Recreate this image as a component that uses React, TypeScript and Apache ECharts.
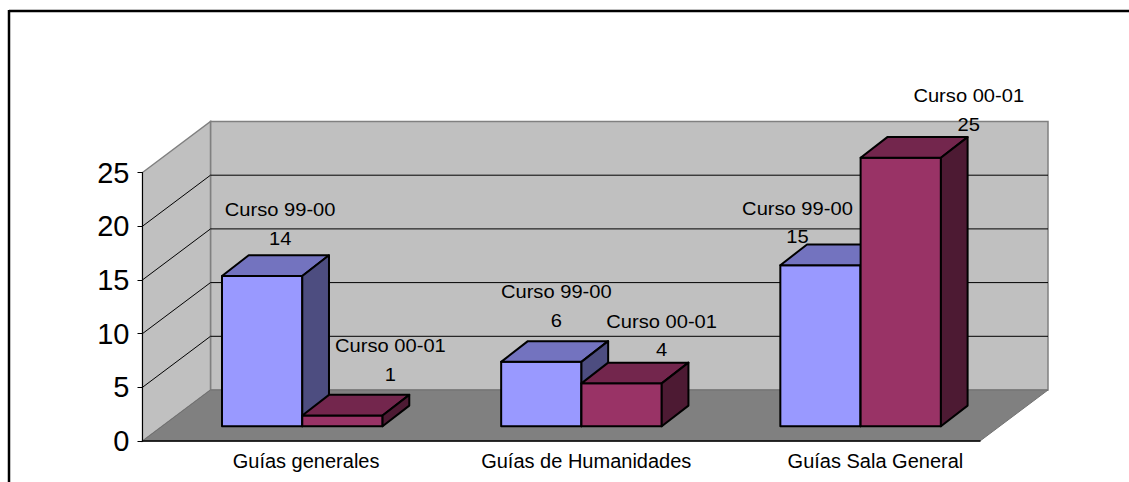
import React, { useEffect, useRef } from "react";
import * as echarts from "echarts";

const categories = ["Guías generales", "Guías de Humanidades", "Guías Sala General"];
const seriesNameA = "Curso 99-00";
const seriesNameB = "Curso 00-01";
const valuesA = [14, 6, 15];
const valuesB = [1, 4, 25];
const wallTicks = [5, 10, 15, 20];

// Layout of the 3-D projection, in pixels
const WALL_DX = 68;
const WALL_DY = -51;
const BAR_SHIFT_X = 20.2;
const BAR_SHIFT_Y = -14.7;
const BAR_DX = 26.7;
const BAR_DY = -20.7;
const BAR_RATIO = 0.2876;
const FONT = "'Liberation Sans', Arial, sans-serif";

// Hand-placed label offsets from the middle of each bar's front top edge
const labelOffsetsA = [[18, -52], [15, -56], [-23, -43]];
const labelOffsetsB = [[48, -56], [40, -48], [68, -48]];
// Horizontal padding that moves each category label off its band centre
const categoryPadding = [48, 50, 70];

const wallItem = (params: any, api: any) => {
  const cs = params.coordSys;
  const left = cs.x;
  const right = cs.x + cs.width;
  const y0 = api.coord([0, 0])[1];
  const yTop = api.coord([0, 25])[1];
  const children: any[] = [
    {
      type: "polygon",
      shape: { points: [[left + WALL_DX, yTop + WALL_DY], [right + WALL_DX, yTop + WALL_DY], [right + WALL_DX, y0 + WALL_DY], [left + WALL_DX, y0 + WALL_DY]] },
      style: { fill: "#C0C0C0", stroke: "#808080", lineWidth: 1.5 },
    },
    {
      type: "polygon",
      shape: { points: [[left, yTop], [left + WALL_DX, yTop + WALL_DY], [left + WALL_DX, y0 + WALL_DY], [left, y0]] },
      style: { fill: "#C0C0C0", stroke: "#808080", lineWidth: 1.5 },
    },
    {
      type: "polygon",
      shape: { points: [[left, y0], [left + WALL_DX, y0 + WALL_DY], [right + WALL_DX, y0 + WALL_DY], [right, y0]] },
      style: { fill: "#808080", stroke: "#707070", lineWidth: 1 },
    },
  ];
  wallTicks.forEach((t) => {
    const y = api.coord([0, t])[1];
    children.push({
      type: "polyline",
      shape: { points: [[left, y], [left + WALL_DX, y + WALL_DY], [right + WALL_DX, y + WALL_DY]] },
      style: { fill: "none", stroke: "#000", lineWidth: 1 },
    });
  });
  return { type: "group", children };
};

const barItem = (side: number, colors: string[], name: string, offsets: number[][]) => (params: any, api: any) => {
  const idx = api.value(0);
  const val = api.value(1);
  const top = api.coord([idx, val]);
  const base = api.coord([idx, 0]);
  const w = api.size([1, 0])[0] * BAR_RATIO;
  const x0 = top[0] + BAR_SHIFT_X + (side < 0 ? -w : 0);
  const x1 = x0 + w;
  const yT = top[1] + BAR_SHIFT_Y;
  const yB = base[1] + BAR_SHIFT_Y;
  const stroke = { stroke: "#000", lineWidth: 2, lineJoin: "round" };
  const off = offsets[params.dataIndex];
  return {
    type: "group",
    children: [
      { type: "polygon", shape: { points: [[x0, yT], [x1, yT], [x1, yB], [x0, yB]] }, style: { fill: colors[0], ...stroke } },
      { type: "polygon", shape: { points: [[x0, yT], [x0 + BAR_DX, yT + BAR_DY], [x1 + BAR_DX, yT + BAR_DY], [x1, yT]] }, style: { fill: colors[1], ...stroke } },
      { type: "polygon", shape: { points: [[x1, yT], [x1 + BAR_DX, yT + BAR_DY], [x1 + BAR_DX, yB + BAR_DY], [x1, yB]] }, style: { fill: colors[2], ...stroke } },
      {
        type: "text",
        x: (x0 + x1) / 2 + off[0],
        y: yT + off[1],
        scaleX: 1.06,
        style: {
          text: `${name}\n${val}`,
          fill: "#000",
          fontSize: 19,
          fontFamily: FONT,
          lineHeight: 28.5,
          align: "center",
          verticalAlign: "middle",
        },
      },
    ],
  };
};

const toData = (vals: number[]) => vals.map((v, i) => [i, v]);

export default function App() {
  const ref = useRef<HTMLDivElement>(null);
  useEffect(() => {
    const chart = echarts.init(ref.current!, null, { renderer: "svg" });
    const rich: any = {};
    categoryPadding.forEach((p, i) => {
      rich[`c${i}`] = { fontSize: 20, fontFamily: FONT, color: "#000", padding: [0, 0, 0, p] };
    });
    chart.setOption({
      animation: false,
      backgroundColor: "#fff",
      graphic: [
        { type: "line", shape: { x1: 9, y1: 11, x2: 1129, y2: 11 }, style: { stroke: "#000", lineWidth: 2.5 }, z: 100 },
        { type: "line", shape: { x1: 9, y1: 10, x2: 9, y2: 482 }, style: { stroke: "#000", lineWidth: 2.5 }, z: 100 },
      ],
      grid: { left: 142.5, right: 149, top: 172.5, bottom: 41 },
      xAxis: {
        type: "category",
        data: categories,
        z: 10,
        axisLine: { show: true, lineStyle: { color: "#000", width: 1.5 } },
        axisTick: { show: false },
        axisLabel: {
          margin: 10,
          interval: 0,
          formatter: (v: string) => `{c${categories.indexOf(v)}|${v}}`,
          rich,
        },
      },
      yAxis: {
        type: "value",
        min: 0,
        max: 25,
        interval: 5,
        z: 10,
        splitLine: { show: false },
        axisLine: { show: true, lineStyle: { color: "#000", width: 1 } },
        axisTick: { show: true, length: 5, lineStyle: { color: "#000", width: 1 } },
        axisLabel: { fontSize: 29, fontFamily: FONT, color: "#000", margin: 13 },
      },
      series: [
        { type: "custom", name: "walls", z: 1, data: [[0, 0]], encode: { x: 0, y: 1 }, renderItem: wallItem, silent: true },
        {
          type: "custom",
          name: seriesNameA,
          z: 2,
          data: toData(valuesA),
          encode: { x: 0, y: 1 },
          renderItem: barItem(-1, ["#9999FF", "#7373BF", "#4D4D80"], seriesNameA, labelOffsetsA),
        },
        {
          type: "custom",
          name: seriesNameB,
          z: 3,
          data: toData(valuesB),
          encode: { x: 0, y: 1 },
          renderItem: barItem(1, ["#993366", "#73264D", "#4D1A33"], seriesNameB, labelOffsetsB),
        },
      ],
    });
    return () => chart.dispose();
  }, []);
  return <div ref={ref} style={{ position: "fixed", left: 0, top: 0, width: 1129, height: 482 }} />;
}
